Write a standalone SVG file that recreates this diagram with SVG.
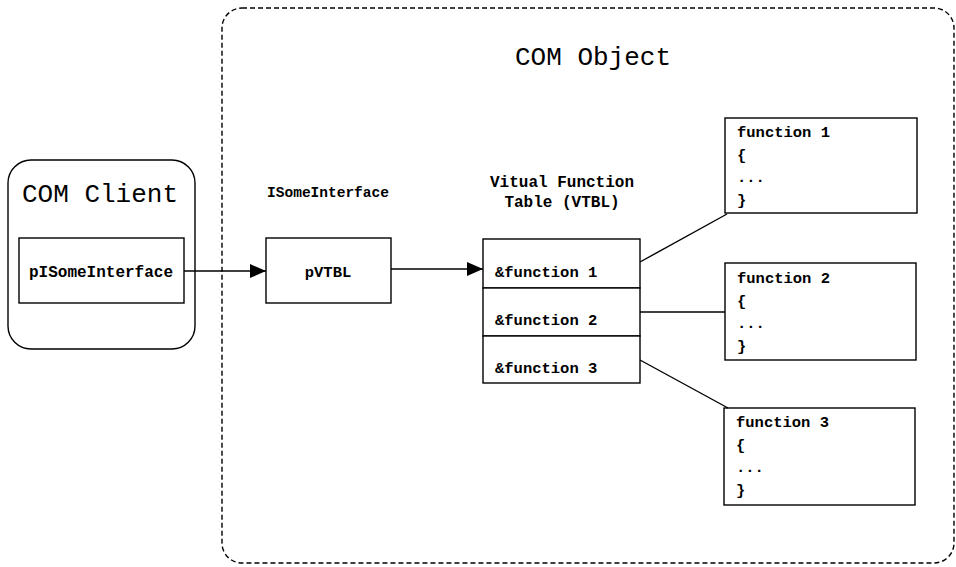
<svg xmlns="http://www.w3.org/2000/svg" width="956" height="567" viewBox="0 0 956 567">
<defs>
<marker id="arr" markerWidth="16" markerHeight="14" refX="16" refY="7" orient="auto" markerUnits="userSpaceOnUse">
<path d="M0,0 L16,7 L0,14 Z" fill="#000"/>
</marker>
<style>
.box{fill:#fff;stroke:#000;stroke-width:1.4}
.dash{fill:none;stroke:#000;stroke-width:1.4;stroke-dasharray:5 3}
.ln{fill:none;stroke:#000;stroke-width:1.4}
.big{font-family:"Liberation Mono","Courier New",monospace;font-size:26px;fill:#000}
.b{font-family:"Liberation Mono","Courier New",monospace;font-weight:bold;fill:#000}
.t16{font-size:16px}
.t15{font-size:15.5px}
.t14{font-size:14.5px}
</style>
</defs>
<rect width="956" height="567" fill="#fff"/>
<g id="com-object">
<rect class="dash" x="222" y="8" width="732" height="555" rx="20"/>
<text class="big" x="593" y="65" text-anchor="middle">COM Object</text>
</g>
<g id="com-client">
<rect class="box" x="8" y="160" width="187" height="189" rx="23"/>
<text class="big" x="100" y="202" text-anchor="middle">COM Client</text>
</g>
<g id="pISomeInterface">
<rect class="box" x="19" y="238" width="165" height="65"/>
<text class="b t16" x="101" y="277" text-anchor="middle">pISomeInterface</text>
</g>
<g id="ISomeInterface">
<text class="b t14" x="328" y="197" text-anchor="middle">ISomeInterface</text>
<rect class="box" x="266" y="238" width="125" height="65"/>
<text class="b t15" x="328" y="277" text-anchor="middle">pVTBL</text>
</g>
<g id="vtbl">
<text class="b t16" x="562" y="187" text-anchor="middle">Vitual Function</text>
<text class="b t16" x="562" y="207" text-anchor="middle">Table (VTBL)</text>
<rect class="box" x="483" y="239" width="157" height="49"/>
<rect class="box" x="483" y="288" width="157" height="48"/>
<rect class="box" x="483" y="336" width="157" height="47"/>
<text class="b t15" x="495" y="277">&amp;function 1</text>
<text class="b t15" x="495" y="325">&amp;function 2</text>
<text class="b t15" x="495" y="373">&amp;function 3</text>
</g>
<g id="function1">
<rect class="box" x="725" y="118" width="192" height="95"/>
<text class="b t15" x="737" y="137">function 1</text>
<text class="b t15" x="737" y="160">{</text>
<text class="b t15" x="737" y="182">...</text>
<text class="b t15" x="737" y="205">}</text>
</g>
<g id="function2">
<rect class="box" x="725" y="263" width="191" height="97"/>
<text class="b t15" x="737" y="283">function 2</text>
<text class="b t15" x="737" y="306">{</text>
<text class="b t15" x="737" y="328">...</text>
<text class="b t15" x="737" y="351">}</text>
</g>
<g id="function3">
<rect class="box" x="724" y="408" width="191" height="97"/>
<text class="b t15" x="736" y="427">function 3</text>
<text class="b t15" x="736" y="450">{</text>
<text class="b t15" x="736" y="472">...</text>
<text class="b t15" x="736" y="495">}</text>
</g>
<g id="connectors">
<line class="ln" x1="184" y1="271" x2="266" y2="271" marker-end="url(#arr)"/>
<line class="ln" x1="391" y1="269" x2="483" y2="269" marker-end="url(#arr)"/>
<line class="ln" x1="640" y1="262" x2="727" y2="214"/>
<line class="ln" x1="640" y1="312" x2="725" y2="312"/>
<line class="ln" x1="640" y1="360" x2="728" y2="408"/>
</g>
</svg>
